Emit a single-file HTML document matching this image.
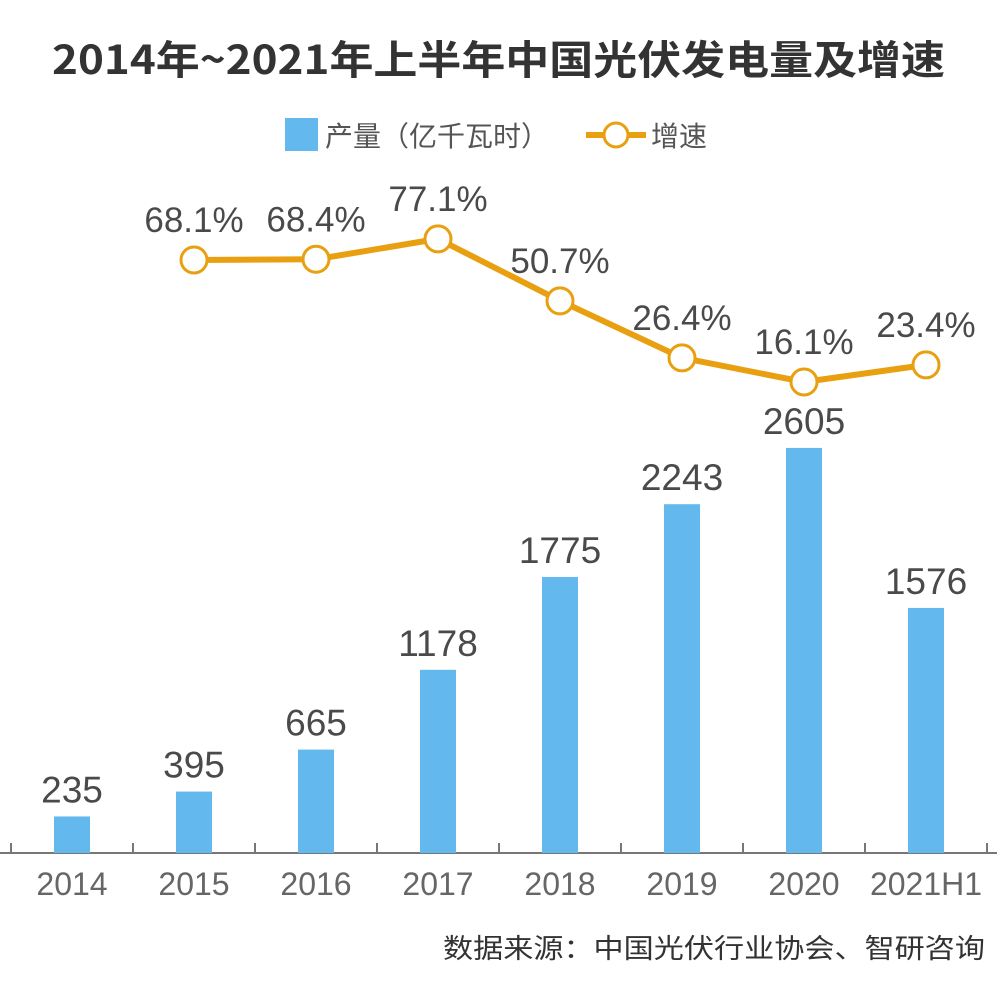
<!DOCTYPE html>
<html><head><meta charset="utf-8"><style>
html,body{margin:0;padding:0;background:#fff;}
svg{display:block;font-family:"Liberation Sans","Noto Sans CJK SC",sans-serif;}
</style></head><body>
<svg id="chart" width="997" height="1000" viewBox="0 0 997 1000">
<text x="52" y="74" font-size="40" font-weight="bold" fill="#333" textLength="893" lengthAdjust="spacingAndGlyphs" font-family="'Noto Sans CJK SC',sans-serif">2014年~2021年上半年中国光伏发电量及增速</text>
<g>
<g>
<rect x="285" y="118" width="33" height="33" fill="#63B8EE"/>
<text x="325" y="146" font-size="28" fill="#555" font-family="'Noto Sans CJK SC',sans-serif">产量（亿千瓦时）</text>
</g>
<g>
<line x1="586" y1="135" x2="646" y2="135" stroke="#E8A010" stroke-width="6"/>
<circle cx="616" cy="135" r="12" fill="#fff" stroke="#E8A010" stroke-width="3"/>
<text x="651" y="146" font-size="28" fill="#555" font-family="'Noto Sans CJK SC',sans-serif">增速</text>
</g>
</g>
<g id="plot"></g>
<text x="985" y="958" font-size="27" fill="#333" text-anchor="end" textLength="542" lengthAdjust="spacingAndGlyphs" font-family="'Noto Sans CJK SC',sans-serif">数据来源：中国光伏行业协会、智研咨询</text>
</svg>
<script>
const categories = ["2014","2015","2016","2017","2018","2019","2020","2021H1"];
const outputValues = [235,395,665,1178,1775,2243,2605,1576];
const growthCategories = ["2015","2016","2017","2018","2019","2020","2021H1"];
const growthValues = [68.1,68.4,77.1,50.7,26.4,16.1,23.4];

const NS = "http://www.w3.org/2000/svg";
const plot = document.getElementById("plot");
const baseY = 853, step = 122, x0 = 72, barW = 36;
function xPos(cat){ return x0 + categories.indexOf(cat) * step; }
function yBar(v){ return baseY - v * 0.1555; }
function yLine(v){ return 260 - (v - 68.1) * 2.346; }
function mk(tag, attrs){ const e = document.createElementNS(NS, tag); for (const k in attrs) e.setAttribute(k, attrs[k]); plot.appendChild(e); return e; }

let ax = mk("line", {x1:0, y1:baseY, x2:997, y2:baseY, stroke:"#777", "stroke-width":2});


for (let i = 0; i <= categories.length; i++) {
  const tx = x0 - step/2 + i * step;
  const t = mk("line", {x1:tx, y1:baseY-10, x2:tx, y2:baseY, stroke:"#777", "stroke-width":2});
  
  
}
categories.forEach((c, i) => {
  const x = xPos(c), v = outputValues[i], y = yBar(v);
  const r = mk("rect", {x:x-barW/2, y:y, width:barW, height:baseY-y, fill:"#63B8EE"});
  
  
  const lb = mk("text", {x:x, y:y-14, "font-size":37, fill:"#4a4a4a", "text-anchor":"middle"});
  lb.textContent = v;
  
  
  const tl = mk("text", {x:x, y:baseY+42, "font-size":32, fill:"#666", "text-anchor":"middle"});
  tl.textContent = c;
  
  
});
const pts = growthCategories.map((c, i) => [xPos(c), yLine(growthValues[i])]);
const pl = mk("polyline", {points: pts.map(p => p.join(",")).join(" "), fill:"none", stroke:"#E8A010", "stroke-width":6, "stroke-linejoin":"round"});


pts.forEach((p, i) => {
  const c = mk("circle", {cx:p[0], cy:p[1], r:13, fill:"#fff", stroke:"#E8A010", "stroke-width":3});
  
  
  const t = mk("text", {x:p[0], y:p[1]-28, "font-size":35, fill:"#4a4a4a", "text-anchor":"middle"});
  t.textContent = growthValues[i].toFixed(1) + "%";
  
  
});
</script>
</body></html>
